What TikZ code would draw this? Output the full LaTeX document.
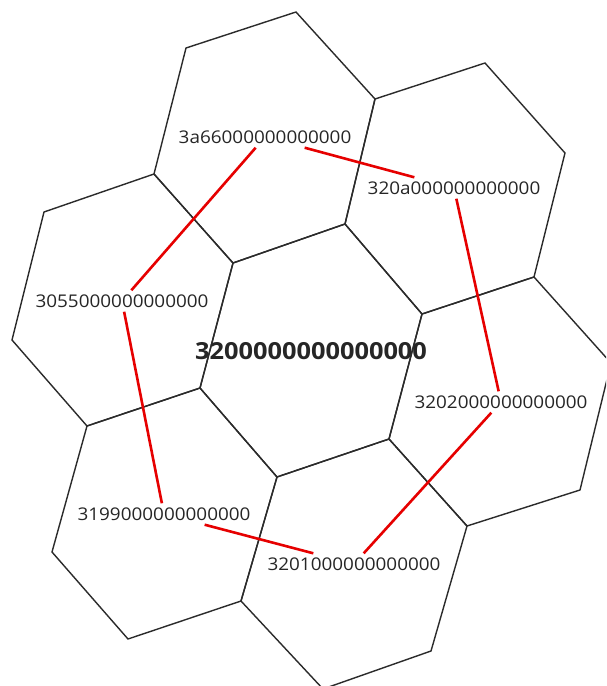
\documentclass[tikz,border=0pt]{standalone}
\usepackage{fontspec}
\usepackage{graphicx}
\setmainfont{Open Sans}
\definecolor{edgec}{HTML}{2B2B2B}
\definecolor{textc}{HTML}{262626}
\definecolor{linkc}{HTML}{E60000}
\tikzset{
  hexedge/.style={draw=edgec, line width=1.4pt, line join=miter},
  cell/.style={text=textc, font=\fontsize{17.5}{20}\selectfont, inner xsep=4pt, inner ysep=0pt, minimum height=21pt},
  centercell/.style={text=textc, font=\fontsize{23.5}{26}\selectfont\bfseries, inner sep=0pt},
  link/.style={draw=linkc, line width=2.6pt}
}
\newcommand{\wide}[1]{\scalebox{1.08}[1]{#1}}
\begin{document}
\begin{tikzpicture}[x=1pt,y=-1pt]
\useasboundingbox (0,0) rectangle (606,686);
\fill[white] (0,0) rectangle (606,686);
\begin{scope}
\clip (0,0) rectangle (606,686);
% vertices
\coordinate (A) at (233,263);
\coordinate (B) at (345,224);
\coordinate (C) at (422,314);
\coordinate (D) at (389,439);
\coordinate (E) at (277,477);
\coordinate (F) at (200,388);
\coordinate (T1) at (186,48);
\coordinate (T2) at (296,12);
\coordinate (T3) at (375,99);
\coordinate (T6) at (154,174);
\coordinate (U2) at (485,63);
\coordinate (U3) at (565,153);
\coordinate (U4) at (534,277);
\coordinate (R3) at (611,363);
\coordinate (R4) at (580,490);
\coordinate (R5) at (467,526);
\coordinate (S4) at (431,651);
\coordinate (S5) at (323,689);
\coordinate (S6) at (241,601);
\coordinate (L1) at (44,212);
\coordinate (L5) at (87,426);
\coordinate (L6) at (12,340);
\coordinate (W5) at (128,639);
\coordinate (W6) at (52,552);
% hexagons
\draw[hexedge] (A) -- (B) -- (C) -- (D) -- (E) -- (F) -- cycle;
\draw[hexedge] (T1) -- (T2) -- (T3) -- (B) -- (A) -- (T6) -- cycle;
\draw[hexedge] (T3) -- (U2) -- (U3) -- (U4) -- (C) -- (B) -- cycle;
\draw[hexedge] (C) -- (U4) -- (R3) -- (R4) -- (R5) -- (D) -- cycle;
\draw[hexedge] (E) -- (D) -- (R5) -- (S4) -- (S5) -- (S6) -- cycle;
\draw[hexedge] (L5) -- (F) -- (E) -- (S6) -- (W5) -- (W6) -- cycle;
\draw[hexedge] (L1) -- (T6) -- (A) -- (F) -- (L5) -- (L6) -- cycle;
\end{scope}
% labels
\node[centercell] (c0) at (311,351) {\wide{3200000000000000}};
\node[cell] (n1) at (265,137) {\wide{3a66000000000000}};
\node[cell] (n2) at (454,188) {\wide{320a000000000000}};
\node[cell] (n3) at (501,402) {\wide{3202000000000000}};
\node[cell] (n4) at (354,564) {\wide{3201000000000000}};
\node[cell] (n5) at (164,514) {\wide{3199000000000000}};
\node[cell] (n6) at (122,301) {\wide{3055000000000000}};
% links
\draw[link] (n1) -- (n2);
\draw[link] (n2) -- (n3);
\draw[link] (n3) -- (n4);
\draw[link] (n4) -- (n5);
\draw[link] (n5) -- (n6);
\draw[link] (n6) -- (n1);
\end{tikzpicture}
\end{document}
